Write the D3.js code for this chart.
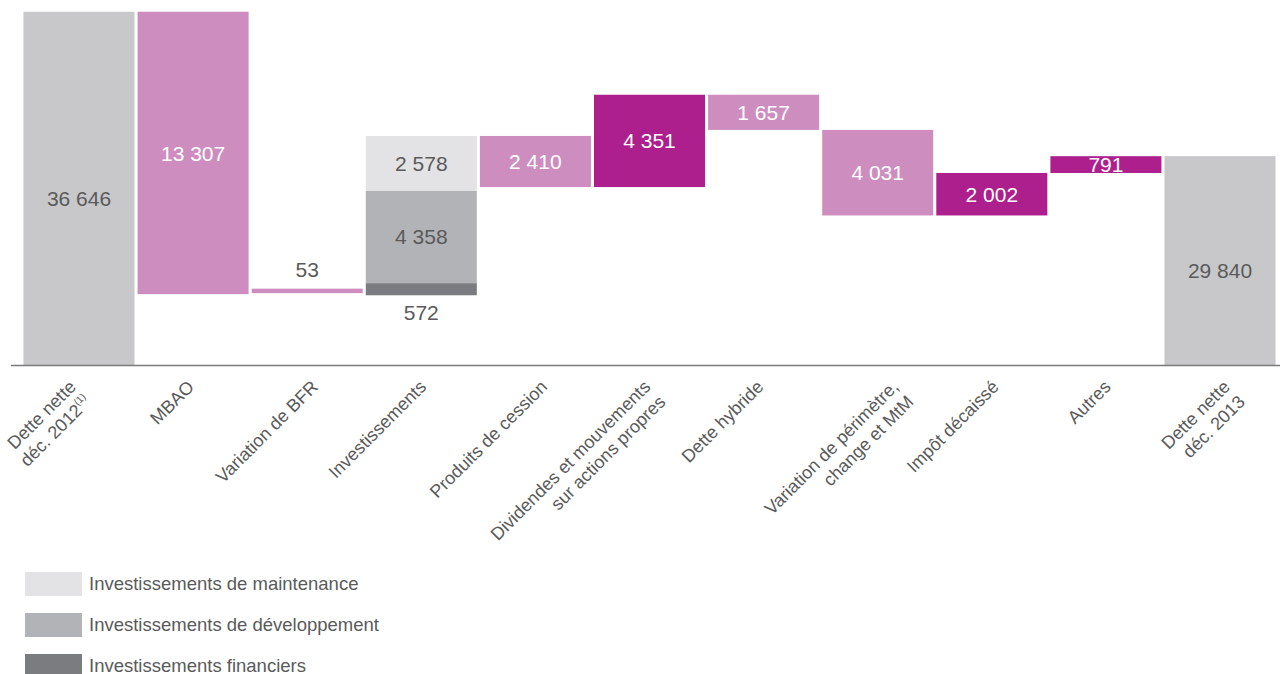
<!DOCTYPE html>
<html><head><meta charset="utf-8">
<script src="https://cdn.jsdelivr.net/npm/d3@7"></script>
<style>
body{margin:0;background:#fff;}
svg{display:block;font-family:"Liberation Sans",Arial,Helvetica,sans-serif;}
</style>
</head><body>
<svg id="chart" width="1280" height="674"></svg>
<script>
// ---------- DATA ----------
const categories = [
  "Dette nette déc. 2012", "MBAO", "Variation de BFR", "Investissements",
  "Produits de cession", "Dividendes et mouvements sur actions propres",
  "Dette hybride", "Variation de périmètre, change et MtM",
  "Impôt décaissé", "Autres", "Dette nette déc. 2013"
];
const categoryLines = [
  ["Dette nette", "déc. 2012"], ["MBAO"], ["Variation de BFR"], ["Investissements"],
  ["Produits de cession"], ["Dividendes et mouvements", "sur actions propres"],
  ["Dette hybride"], ["Variation de périmètre,", "change et MtM"],
  ["Impôt décaissé"], ["Autres"], ["Dette nette", "déc. 2013"]
];
const footnoteMarks = ["(1)", "", "", "", "", "", "", "", "", "", ""];
// kind: total = net debt bar, flow = change of debt, stack = investments
const barKinds = ["total", "flow", "flow", "stack", "flow", "flow", "flow", "flow", "flow", "flow", "total"];
const barValues = [36646, -13307, -53, null, -2410, 4351, -1657, -4031, 2002, 791, 29840];
const investmentSeries = ["Investissements financiers", "Investissements de développement", "Investissements de maintenance"];
const investmentValues = [572, 4358, 2578];
const axisFloor = 20000;   // truncated value axis start
const axisCeil = 37200;

// ---------- STYLE / LAYOUT ----------
const W = 1280, H = 674;
const baseY = 365;
const colorTotal = "#c8c8ca";
const colorDown = "#cd8ebf";
const colorUp = "#ad1f8c";
const investmentColors = ["#7b7c7f", "#b2b3b6", "#e3e3e5"];
const textDark = "#5a5a5a";
const labelNudge = [-2, 2, 12, 6, 13, 2, 1, 22, 8, 6, 11];

const svg = d3.select("#chart");
const fmt = d3.formatLocale({decimal: ",", thousands: " ", grouping: [3], currency: ["", ""]}).format(",d");

const x = d3.scaleBand().domain(categories).range([22, 1277]).paddingInner(0.027).paddingOuter(0.013);
const y = d3.scaleLinear().domain([axisFloor, axisCeil]).range([baseY, 0]);

// compute waterfall geometry
let level = 0;
const bars = [];
const segs = [];
categories.forEach((c, i) => {
  const kind = barKinds[i];
  if (kind === "total") {
    level = barValues[i];
    bars.push({c, i, kind, start: axisFloor, end: level, v: barValues[i]});
  } else if (kind === "flow") {
    const v = barValues[i];
    bars.push({c, i, kind, start: level, end: level + v, v});
    level += v;
  } else {
    let s = level;
    investmentValues.forEach((v, k) => {
      segs.push({c, i, k, start: s, end: s + v, v});
      s += v;
    });
    level = s;
  }
});

const g = svg.append("g");

// bars
bars.forEach(b => {
  const x0 = x(b.c), bw = x.bandwidth();
  let y0 = y(Math.max(b.start, b.end));
  let h = Math.abs(y(b.start) - y(b.end));
  let small = false;
  if (h < 4.5) { small = true; h = 4.5; y0 = y(b.start) - 5.5; }
  const fill = b.kind === "total" ? colorTotal : (b.v < 0 ? colorDown : colorUp);
  g.append("rect").attr("x", x0).attr("y", y0).attr("width", bw).attr("height", h).attr("fill", fill);
  let ty, col;
  if (b.kind === "total") { ty = y0 + h / 2 + 10; col = textDark; }
  else if (small) { ty = y0 - 19; col = textDark; }
  else { ty = y0 + h / 2; col = "#fff"; }
  g.append("text").attr("x", x0 + bw / 2).attr("y", ty).attr("dy", "0.36em")
    .attr("text-anchor", "middle").attr("font-size", 21).attr("fill", col)
    .text(fmt(Math.abs(b.v)));
});

// investment stack
segs.forEach(s => {
  const x0 = x(s.c), bw = x.bandwidth();
  const y0 = y(s.end), h = y(s.start) - y(s.end);
  g.append("rect").attr("x", x0).attr("y", y0).attr("width", bw).attr("height", h).attr("fill", investmentColors[s.k]);
  const small = h < 20;
  g.append("text").attr("x", x0 + bw / 2).attr("y", small ? y(s.start) + 17 : y0 + h / 2).attr("dy", "0.36em")
    .attr("text-anchor", "middle").attr("font-size", 21).attr("fill", textDark)
    .text(fmt(s.v));
});

// baseline axis
g.append("line").attr("x1", 11).attr("x2", W).attr("y1", baseY + 0.5).attr("y2", baseY + 0.5)
  .attr("stroke", "#7a7a7a").attr("stroke-width", 1.6);

// category labels
categories.forEach((c, i) => {
  const ax = x(c) + x.bandwidth() / 2 + labelNudge[i];
  const t = g.append("text")
    .attr("transform", `translate(${ax},388) rotate(-45)`)
    .attr("text-anchor", "end").attr("font-size", 18).attr("fill", textDark);
  categoryLines[i].forEach((line, j) => {
    t.append("tspan").attr("x", 0).attr("dy", j === 0 ? 0 : "1.18em").text(line);
    if (j === categoryLines[i].length - 1 && footnoteMarks[i]) {
      t.append("tspan").attr("font-size", 10).attr("dy", "-0.8em").text(footnoteMarks[i]);
    }
  });
});

// legend
const legendTop = 572, legendStep = 41;
[...investmentSeries].reverse().forEach((name, j) => {
  const k = investmentSeries.length - 1 - j;
  const ly = legendTop + j * legendStep;
  g.append("rect").attr("x", 25).attr("y", ly).attr("width", 57).attr("height", 24).attr("fill", investmentColors[k]);
  g.append("text").attr("x", 89).attr("y", ly + 11).attr("dy", "0.36em")
    .attr("font-size", 18.5).attr("fill", textDark).text(name);
});
</script>
</body></html>
